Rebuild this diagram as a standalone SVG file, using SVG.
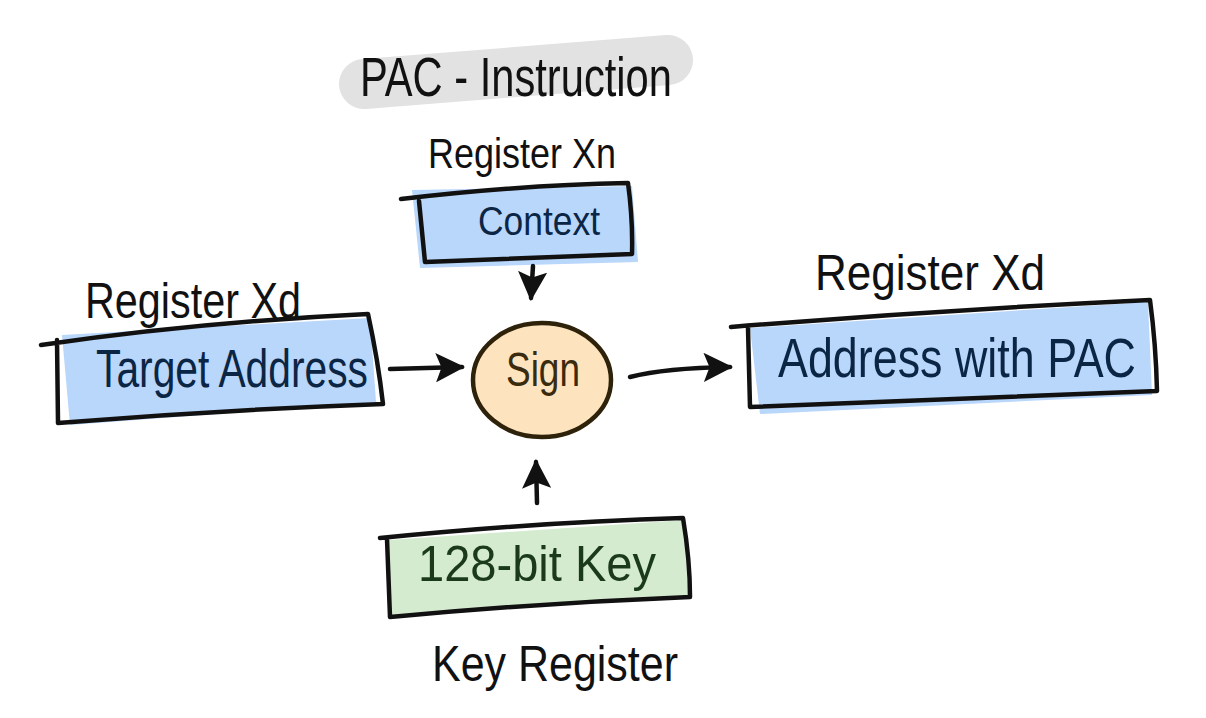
<svg xmlns="http://www.w3.org/2000/svg" width="1206" height="718" viewBox="0 0 1206 718">
<style>
.lbl{font-family:"Liberation Sans Narrow","Liberation Sans",sans-serif;fill:#111;}
.blue{font-family:"Liberation Sans Narrow","Liberation Sans",sans-serif;fill:#0b2545;}
.green{font-family:"Liberation Sans Narrow","Liberation Sans",sans-serif;fill:#1b3a1b;}
.edge{fill:none;stroke:#111;stroke-width:4.5;stroke-linecap:round;stroke-linejoin:round;}
.conn{fill:none;stroke:#111;stroke-width:4.5;stroke-linecap:round;}
</style>
<defs>
<marker id="ah" viewBox="0 0 10 10" refX="9" refY="5" markerWidth="6.5" markerHeight="6.5" orient="auto" markerUnits="strokeWidth">
<path d="M0,0 L10,5 L0,10 L2,5 z" fill="#111"/>
</marker>
</defs>
<rect width="1206" height="718" fill="#ffffff"/>

<g id="title">
<path d="M364,84 L668,60" stroke="#e2e2e2" stroke-width="50" stroke-linecap="round" fill="none"/>
<text class="lbl" x="360" y="96" font-size="56" textLength="312" lengthAdjust="spacingAndGlyphs">PAC - Instruction</text>
</g>

<g id="context">
<text class="lbl" x="428" y="168" font-size="42" textLength="188" lengthAdjust="spacingAndGlyphs">Register Xn</text>
<path d="M412,190 L632,186 L638,262 L420,268 Z" fill="#b9d6fb"/>
<path class="edge" d="M401,199 Q520,185 628,183 Q633,220 632,254 Q520,258 425,262 L419,201"/>
<text class="blue" x="478" y="235" font-size="40" textLength="122" lengthAdjust="spacingAndGlyphs">Context</text>
</g>

<g id="target">
<text class="lbl" x="85" y="318" font-size="50" textLength="216" lengthAdjust="spacingAndGlyphs">Register Xd</text>
<path d="M62,335 L370,318 L376,402 L70,425 Z" fill="#b9d6fb"/>
<path class="edge" d="M41,345 Q200,322 368,314 Q378,360 383,404 Q220,410 58,423 L57,340"/>
<text class="blue" x="96" y="387" font-size="54" textLength="272" lengthAdjust="spacingAndGlyphs">Target Address</text>
</g>

<g id="sign">
<ellipse cx="542" cy="380" rx="69" ry="57" fill="#fde4bf" stroke="#2e220b" stroke-width="4.5"/>
<text x="506" y="386" font-size="48" font-family="Liberation Sans Narrow, Liberation Sans, sans-serif" fill="#3a2a0e" textLength="74" lengthAdjust="spacingAndGlyphs">Sign</text>
</g>

<g id="address">
<text class="lbl" x="815" y="290" font-size="50" textLength="230" lengthAdjust="spacingAndGlyphs">Register Xd</text>
<path d="M750,328 L1148,302 L1152,395 L760,414 Z" fill="#b9d6fb"/>
<path class="edge" d="M731,327 Q940,310 1150,300 Q1156,345 1157,391 Q950,400 750,407 L748,328"/>
<text class="blue" transform="translate(778,377) scale(1,1.25)" x="0" y="0" font-size="44" textLength="358" lengthAdjust="spacingAndGlyphs">Address with PAC</text>
</g>

<g id="key">
<path d="M388,540 L684,520 L688,596 L392,617 Z" fill="#d5ebd0"/>
<path class="edge" d="M380,538 Q540,522 683,518 Q690,560 690,597 Q540,603 390,617 L387,539"/>
<text class="green" x="418" y="581" font-size="50" textLength="238" lengthAdjust="spacingAndGlyphs">128-bit Key</text>
<text class="lbl" x="432" y="681" font-size="50" textLength="246" lengthAdjust="spacingAndGlyphs">Key Register</text>
</g>

<g id="connectors">
<path class="conn" d="M533,266 L531,298" marker-end="url(#ah)"/>
<path class="conn" d="M390,369 L462,367" marker-end="url(#ah)"/>
<path class="conn" d="M630,377 Q665,368 730,367" marker-end="url(#ah)"/>
<path class="conn" d="M537,503 L536,462" marker-end="url(#ah)"/>
</g>
</svg>
